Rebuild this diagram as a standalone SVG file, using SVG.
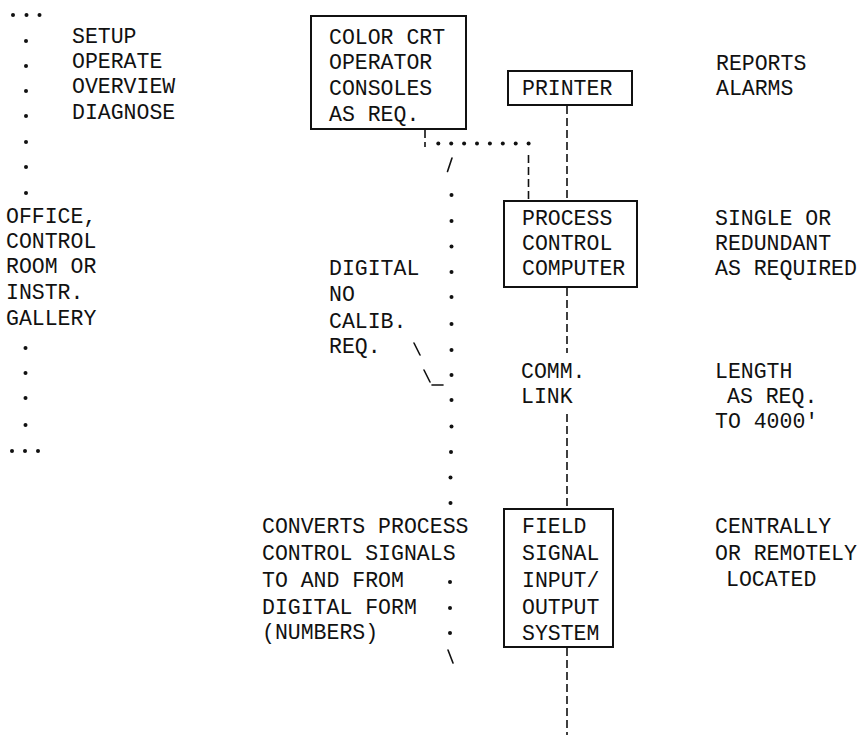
<svg xmlns="http://www.w3.org/2000/svg" width="859" height="735" viewBox="0 0 859 735">
<style>
.t{font-family:"Liberation Mono","Courier New",monospace;font-size:21.5px;fill:#111}
.box{fill:none;stroke:#111;stroke-width:2}
.dash{fill:none;stroke:#111;stroke-width:1.6;stroke-dasharray:8 4}
.ln{fill:none;stroke:#111;stroke-width:1.6;stroke-linecap:round}
.dot{fill:#111}
</style>
<rect width="859" height="735" fill="#fff"/>

<g id="left-boundary">
<circle class="dot" cx="13" cy="15" r="2"/><circle class="dot" cx="26.5" cy="15" r="2"/><circle class="dot" cx="39.5" cy="15" r="2"/>
<circle class="dot" cx="26" cy="41" r="2"/><circle class="dot" cx="26" cy="66" r="2"/><circle class="dot" cx="26" cy="91" r="2"/>
<circle class="dot" cx="26" cy="116" r="2"/><circle class="dot" cx="26" cy="142" r="2"/><circle class="dot" cx="26" cy="167" r="2"/>
<circle class="dot" cx="26" cy="193" r="2"/>
<circle class="dot" cx="25.5" cy="348" r="2"/><circle class="dot" cx="25.5" cy="373" r="2"/><circle class="dot" cx="25.5" cy="398" r="2"/>
<circle class="dot" cx="25.5" cy="425" r="2"/>
<circle class="dot" cx="12" cy="451" r="2"/><circle class="dot" cx="25" cy="451" r="2"/><circle class="dot" cx="38" cy="451" r="2"/>
</g>

<g id="functions-label">
<text class="t" x="72" y="43">SETUP</text>
<text class="t" x="72" y="68">OPERATE</text>
<text class="t" x="72" y="93">OVERVIEW</text>
<text class="t" x="72" y="119">DIAGNOSE</text>
</g>

<g id="location-label">
<text class="t" x="6" y="223">OFFICE,</text>
<text class="t" x="6" y="248">CONTROL</text>
<text class="t" x="6" y="273">ROOM OR</text>
<text class="t" x="6" y="299">INSTR.</text>
<text class="t" x="6" y="325">GALLERY</text>
</g>

<g id="connectors">
<line class="dash" x1="425" y1="130" x2="425" y2="147"/>
<circle class="dot" cx="438.3" cy="143.5" r="2"/><circle class="dot" cx="451.2" cy="143.5" r="2"/><circle class="dot" cx="464.1" cy="143.5" r="2"/>
<circle class="dot" cx="477" cy="143.5" r="2"/><circle class="dot" cx="489.9" cy="143.5" r="2"/><circle class="dot" cx="502.8" cy="143.5" r="2"/>
<circle class="dot" cx="515.7" cy="143.5" r="2"/><circle class="dot" cx="528.6" cy="143.5" r="2"/>
<line class="dash" x1="528.5" y1="155" x2="528.5" y2="200"/>
<line class="dash" x1="567" y1="106" x2="567" y2="200"/>
<line class="dash" x1="567" y1="288" x2="567" y2="353"/>
<line class="dash" x1="567" y1="414" x2="567" y2="508"/>
<line class="dash" x1="567" y1="648" x2="567" y2="735"/>
<line class="ln" x1="452" y1="158" x2="447.5" y2="171.5"/>
<g id="digital-boundary">
<circle class="dot" cx="451.5" cy="195" r="2"/><circle class="dot" cx="451.5" cy="221" r="2"/><circle class="dot" cx="451.5" cy="246.5" r="2"/>
<circle class="dot" cx="451.5" cy="272" r="2"/><circle class="dot" cx="451.5" cy="297" r="2"/><circle class="dot" cx="451.5" cy="324" r="2"/>
<circle class="dot" cx="451.5" cy="350" r="2"/><circle class="dot" cx="451.5" cy="375" r="2"/><circle class="dot" cx="451.5" cy="400" r="2"/>
<circle class="dot" cx="451.5" cy="426.5" r="2"/><circle class="dot" cx="451" cy="452" r="2"/><circle class="dot" cx="450.5" cy="477.5" r="2"/>
<circle class="dot" cx="450.5" cy="503" r="2"/>
<circle class="dot" cx="450" cy="582" r="2"/><circle class="dot" cx="450" cy="608" r="2"/><circle class="dot" cx="450" cy="633" r="2"/>
<line class="ln" x1="448" y1="650" x2="453" y2="663"/>
</g>
<line class="ln" x1="414" y1="343" x2="420" y2="355"/>
<line class="ln" x1="424" y1="370" x2="430" y2="382"/>
<line class="ln" x1="432" y1="385" x2="443" y2="385"/>
</g>

<g id="crt-consoles">
<rect class="box" x="311" y="16" width="155" height="113"/>
<text class="t" x="329" y="44">COLOR CRT</text>
<text class="t" x="329" y="69">OPERATOR</text>
<text class="t" x="329" y="95">CONSOLES</text>
<text class="t" x="329" y="121">AS REQ.</text>
</g>

<g id="printer">
<rect class="box" x="508" y="71" width="124" height="34"/>
<text class="t" x="522" y="95">PRINTER</text>
</g>

<g id="printer-label">
<text class="t" x="716" y="70">REPORTS</text>
<text class="t" x="716" y="95">ALARMS</text>
</g>

<g id="computer">
<rect class="box" x="504" y="201" width="133" height="86"/>
<text class="t" x="522" y="225">PROCESS</text>
<text class="t" x="522" y="250">CONTROL</text>
<text class="t" x="522" y="275">COMPUTER</text>
</g>

<g id="computer-label">
<text class="t" x="715" y="225">SINGLE OR</text>
<text class="t" x="715" y="250">REDUNDANT</text>
<text class="t" x="715" y="275">AS REQUIRED</text>
</g>

<g id="digital-label">
<text class="t" x="329" y="275">DIGITAL</text>
<text class="t" x="329" y="301">NO</text>
<text class="t" x="329" y="328">CALIB.</text>
<text class="t" x="329" y="353">REQ.</text>
</g>

<g id="comm-link-label">
<text class="t" x="521" y="378">COMM.</text>
<text class="t" x="521" y="403">LINK</text>
</g>

<g id="length-label">
<text class="t" x="715" y="378">LENGTH</text>
<text class="t" x="727" y="403">AS REQ.</text>
<text class="t" x="715" y="428">TO 4000'</text>
</g>

<g id="converts-label">
<text class="t" x="262" y="533">CONVERTS PROCESS</text>
<text class="t" x="262" y="560">CONTROL SIGNALS</text>
<text class="t" x="262" y="587">TO AND FROM</text>
<text class="t" x="262" y="614">DIGITAL FORM</text>
<text class="t" x="262" y="639">(NUMBERS)</text>
</g>

<g id="field-io">
<rect class="box" x="504" y="509" width="109" height="138"/>
<text class="t" x="522" y="533">FIELD</text>
<text class="t" x="522" y="560">SIGNAL</text>
<text class="t" x="522" y="587">INPUT/</text>
<text class="t" x="522" y="614">OUTPUT</text>
<text class="t" x="522" y="640">SYSTEM</text>
</g>

<g id="field-label">
<text class="t" x="715" y="533">CENTRALLY</text>
<text class="t" x="715" y="560">OR REMOTELY</text>
<text class="t" x="726" y="586">LOCATED</text>
</g>
</svg>
